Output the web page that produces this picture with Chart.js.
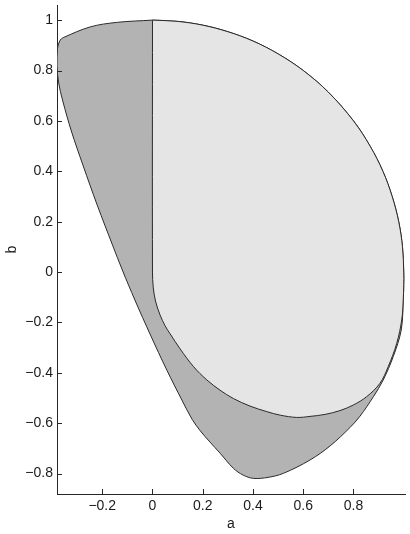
<!DOCTYPE html>
<html>
<head>
<meta charset="utf-8">
<script src="https://cdn.jsdelivr.net/npm/chart.js@4/dist/chart.umd.min.js"></script>
<style>
  html, body { margin: 0; padding: 0; background: #fff; }
  #wrap { width: 410px; height: 534px; position: relative; }
</style>
</head>
<body>
<div id="wrap"><canvas id="myChart"></canvas></div>
<script>
    //********************************************************************************//
    //                            Data
    //********************************************************************************//
    // shared arc: from (0,1) round the right side down to where the two curves part
    var arcX = [0, 0.1, 0.2, 0.3, 0.4, 0.5, 0.6, 0.7, 0.8, 0.866, 0.917, 0.954, 0.98, 0.995, 1.0, 1.0, 0.998];
    var arcY = [1, 0.995, 0.98, 0.954, 0.917, 0.866, 0.8, 0.714, 0.6, 0.5, 0.4, 0.3, 0.2, 0.1, 0, -0.05, -0.111];

    // lower edge of the light region, back to (0,0) and up the a = 0 line
    var innerX = [0.992, 0.972, 0.938, 0.905, 0.852, 0.799, 0.746, 0.687, 0.627, 0.574, 0.508, 0.455, 0.388, 0.322, 0.269, 0.216, 0.163, 0.11, 0.07, 0.05, 0.03, 0.012, 0.003, 0, 0];
    var innerY = [-0.19, -0.283, -0.376, -0.442, -0.495, -0.528, -0.55, -0.565, -0.573, -0.577, -0.568, -0.554, -0.532, -0.502, -0.469, -0.428, -0.375, -0.305, -0.245, -0.213, -0.17, -0.115, -0.06, 0, 1];

    // outer edge of the dark region, from the right side round the bottom and up the left
    var outerX = [0.99, 0.958, 0.918, 0.879, 0.826, 0.786, 0.707, 0.627, 0.521, 0.46, 0.402, 0.361, 0.322, 0.269, 0.229, 0.19, 0.158, 0.117, 0.057, -0.008, -0.07, -0.12, -0.159, -0.22, -0.277, -0.323, -0.357, -0.374, -0.38, -0.378, -0.367, -0.354, -0.248, -0.142, 0];
    var outerY = [-0.23, -0.336, -0.429, -0.495, -0.572, -0.617, -0.69, -0.746, -0.799, -0.815, -0.819, -0.806, -0.779, -0.719, -0.675, -0.63, -0.585, -0.508, -0.389, -0.25, -0.111, 0.008, 0.107, 0.266, 0.425, 0.56, 0.679, 0.754, 0.821, 0.888, 0.921, 0.931, 0.973, 0.991, 1];

    var xTicks = [-0.2, 0, 0.2, 0.4, 0.6, 0.8];
    var yTicks = [-0.8, -0.6, -0.4, -0.2, 0, 0.2, 0.4, 0.6, 0.8, 1];

    var toPoints = function (xs, ys) {
        return xs.map(function (v, i) { return {x: v, y: ys[i]}; });
    };
    var fmt = function (v) {
        return v === 0 ? '0' : String(v).replace('-', '\u2212');
    };

    var lightShape = toPoints(arcX.concat(innerX), arcY.concat(innerY));
    var darkShape = toPoints(arcX.concat(outerX), arcY.concat(outerY));

    //********************************************************************************//
    //                            Inward tick marks
    //********************************************************************************//
    var innerTicks = {
        id: 'innerTicks',
        afterDraw: function (chart) {
            var ctx = chart.ctx, area = chart.chartArea;
            var x = chart.scales.x, y = chart.scales.y;
            ctx.save();
            ctx.strokeStyle = '#262626';
            ctx.lineWidth = 1;
            ctx.beginPath();
            x.ticks.forEach(function (t) {
                var px = Math.round(x.getPixelForValue(t.value)) + 0.5;
                ctx.moveTo(px, area.bottom);
                ctx.lineTo(px, area.bottom - 5);
            });
            y.ticks.forEach(function (t) {
                var py = Math.round(y.getPixelForValue(t.value)) + 0.5;
                ctx.moveTo(area.left, py);
                ctx.lineTo(area.left + 5, py);
            });
            ctx.stroke();
            ctx.restore();
        }
    };

    var font = {family: '"Liberation Sans", Arial, sans-serif', size: 14};

    var config = {
        type: 'scatter',
        data: {
            datasets: [{
                label: 'inner',
                data: lightShape,
                showLine: true,
                fill: 'shape',
                backgroundColor: '#e5e5e5',
                borderColor: '#2a2a2a',
                borderWidth: 1,
                pointRadius: 0,
                tension: 0.35,
                order: 0
            },
            {
                label: 'outer',
                data: darkShape,
                showLine: true,
                fill: 'shape',
                backgroundColor: '#b3b3b3',
                borderColor: '#2a2a2a',
                borderWidth: 1,
                pointRadius: 0,
                tension: 0.35,
                order: 1
            }]
        },
        options: {
            responsive: true,
            maintainAspectRatio: false,
            animation: false,
            layout: {padding: {top: 5, right: 5, left: 0, bottom: 0}},
            plugins: {legend: {display: false}, tooltip: {enabled: false}},
            scales: {
                x: {
                    type: 'linear',
                    min: -0.38,
                    max: 1.005,
                    grid: {display: false, drawTicks: false},
                    border: {display: true, color: '#262626', width: 1},
                    afterBuildTicks: function (s) { s.ticks = xTicks.map(function (v) { return {value: v}; }); },
                    afterFit: function (s) { s.height = 40; },
                    ticks: {color: '#1a1a1a', font: font, padding: 4, maxRotation: 0, callback: fmt},
                    title: {display: true, text: 'a', color: '#1a1a1a', font: font, padding: {top: 0, bottom: 1}}
                },
                y: {
                    type: 'linear',
                    min: -0.881,
                    max: 1.06,
                    grid: {display: false, drawTicks: false},
                    border: {display: true, color: '#262626', width: 1},
                    afterBuildTicks: function (s) { s.ticks = yTicks.map(function (v) { return {value: v}; }); },
                    afterFit: function (s) { s.width = 57; s.paddingTop = 0; s.paddingBottom = 0; },
                    ticks: {color: '#1a1a1a', font: font, padding: 4, callback: fmt},
                    title: {display: true, text: 'b', color: '#1a1a1a', font: font, padding: {top: 4, bottom: 0}}
                }
            }
        },
        plugins: [innerTicks]
    };

    window.addEventListener('load', function () {
        new Chart(document.getElementById('myChart'), config);
    });
</script>
</body>
</html>
